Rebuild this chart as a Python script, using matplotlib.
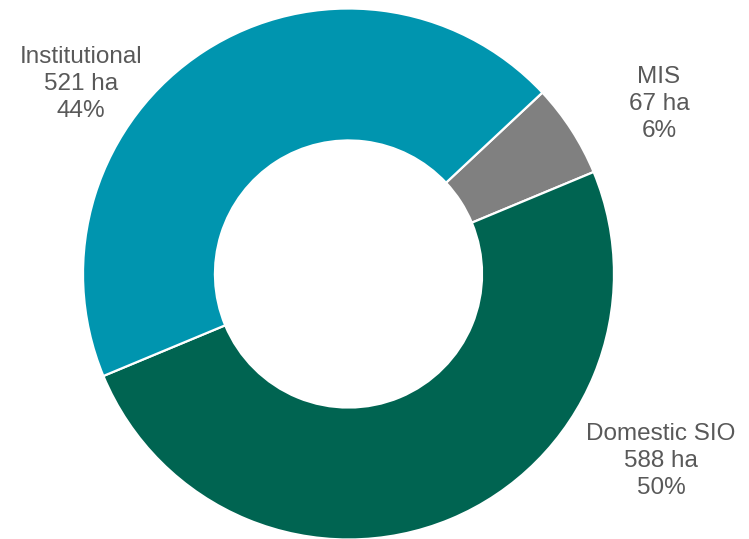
import matplotlib.pyplot as plt

categories = ["MIS", "Domestic SIO", "Institutional"]
hectares = [67, 588, 521]
colors = ["#808080", "#006451", "#0095AF"]

# label anchor points in pixel space (x from left, y from top)
label_pos = [(659, 104), (661, 461), (81, 84)]

W, H = 749, 539
fig = plt.figure(figsize=(W / 100, H / 100), dpi=100)
ax = fig.add_axes([0, 0, 1, 1])

cx, cy, r = 348.5, 274, 265.5
ax.pie(
    hectares,
    colors=colors,
    startangle=-43.1,
    counterclock=True,
    center=(cx, cy),
    radius=r,
    wedgeprops=dict(width=r * 0.497, edgecolor="white", linewidth=1.6),
    frame=True,
)
ax.set_xlim(0, W)
ax.set_ylim(H, 0)
ax.set_aspect("equal")
ax.axis("off")

total = sum(hectares)
for name, val, (x, y) in zip(categories, hectares, label_pos):
    pct = round(100 * val / total)
    ax.text(x, y, f"{name}\n{val} ha\n{pct}%", ha="center", va="center",
            multialignment="center", fontsize=17.5, color="#595959",
            family="Liberation Sans", linespacing=1.3)

fig.savefig("out.png", dpi=100)
